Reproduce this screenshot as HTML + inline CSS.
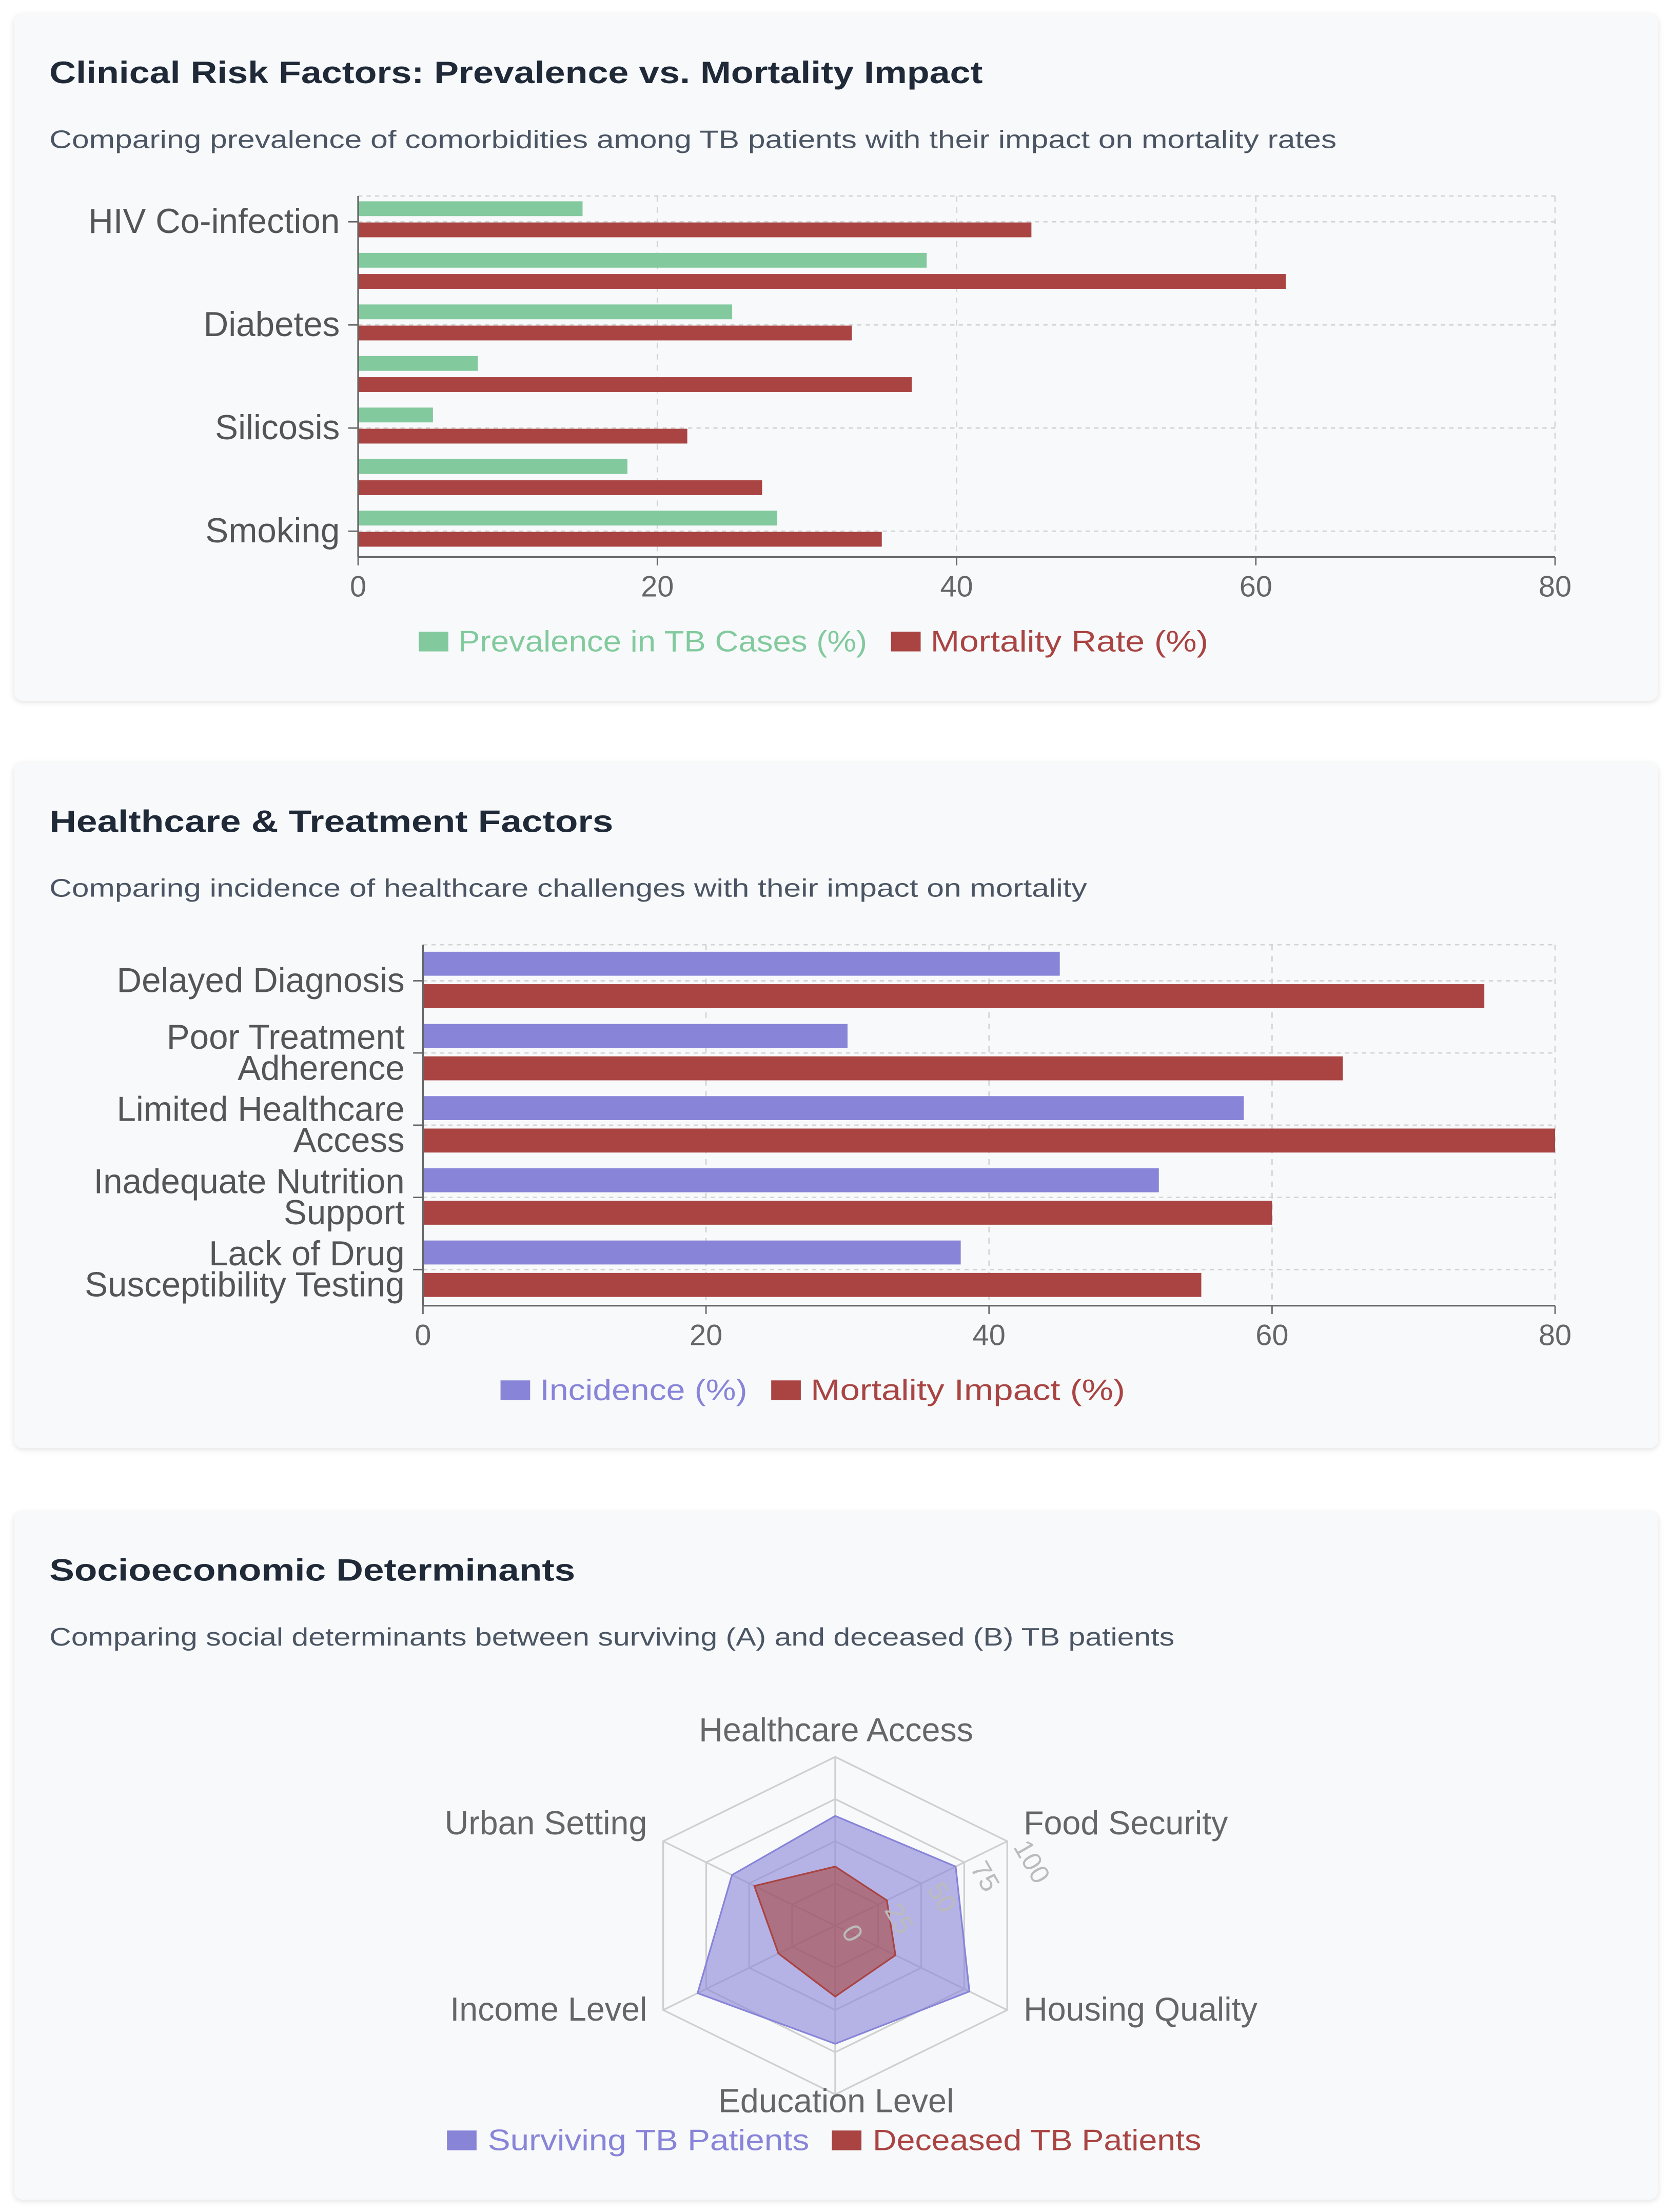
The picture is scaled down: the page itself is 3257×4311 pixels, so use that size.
<!DOCTYPE html>
<html><head><meta charset="utf-8">
<style>
html,body{margin:0;padding:0;background:#fff;}
svg{display:block;}
text{font-family:"Liberation Sans",sans-serif;}
</style></head>
<body>
<svg id="root" width="3257" height="4311" viewBox="0 0 1185.2 1568.8" xmlns="http://www.w3.org/2000/svg">
<defs>
<filter id="sh" x="-5%" y="-5%" width="110%" height="110%"><feDropShadow dx="0" dy="1" stdDeviation="2" flood-color="#000" flood-opacity="0.12"/></filter>
</defs>
<rect x="10" y="10" width="1166" height="487" rx="6" fill="#f7f9fb" filter="url(#sh)"/>
<rect x="10" y="541" width="1166" height="486" rx="6" fill="#f7f9fb" filter="url(#sh)"/>
<rect x="10" y="1072" width="1166" height="488" rx="6" fill="#f7f9fb" filter="url(#sh)"/>

<text x="35" y="59" font-size="22" font-weight="bold" fill="#1f2937" textLength="662" lengthAdjust="spacingAndGlyphs">Clinical Risk Factors: Prevalence vs. Mortality Impact</text>
<text x="35" y="105" font-size="18" fill="#4b5563" textLength="913" lengthAdjust="spacingAndGlyphs">Comparing prevalence of comorbidities among TB patients with their impact on mortality rates</text>
<text x="35" y="590" font-size="22" font-weight="bold" fill="#1f2937" textLength="400" lengthAdjust="spacingAndGlyphs">Healthcare &amp; Treatment Factors</text>
<text x="35" y="636" font-size="18" fill="#4b5563" textLength="736" lengthAdjust="spacingAndGlyphs">Comparing incidence of healthcare challenges with their impact on mortality</text>
<text x="35" y="1121" font-size="22" font-weight="bold" fill="#1f2937" textLength="373" lengthAdjust="spacingAndGlyphs">Socioeconomic Determinants</text>
<text x="35" y="1167" font-size="18" fill="#4b5563" textLength="798" lengthAdjust="spacingAndGlyphs">Comparing social determinants between surviving (A) and deceased (B) TB patients</text>

<g id="chart1"></g>
<g id="chart2"></g>
<g id="chart3"></g>

<g>
<rect x="297" y="448" width="21" height="14" fill="#82ca9d"/>
<text x="325" y="462" font-size="21" fill="#82ca9d" textLength="290" lengthAdjust="spacingAndGlyphs">Prevalence in TB Cases (%)</text>
<rect x="632" y="448" width="21" height="14" fill="#a94442"/>
<text x="660" y="462" font-size="21" fill="#a94442" textLength="197" lengthAdjust="spacingAndGlyphs">Mortality Rate (%)</text>
</g>
<g>
<rect x="355" y="979" width="21" height="14" fill="#8884d8"/>
<text x="383" y="993" font-size="21" fill="#8884d8" textLength="147" lengthAdjust="spacingAndGlyphs">Incidence (%)</text>
<rect x="547" y="979" width="21" height="14" fill="#a94442"/>
<text x="575" y="993" font-size="21" fill="#a94442" textLength="223" lengthAdjust="spacingAndGlyphs">Mortality Impact (%)</text>
</g>
<g>
<rect x="317" y="1511" width="21" height="14" fill="#8884d8"/>
<text x="346" y="1525" font-size="21" fill="#8884d8" textLength="228" lengthAdjust="spacingAndGlyphs">Surviving TB Patients</text>
<rect x="590" y="1511" width="21" height="14" fill="#a94442"/>
<text x="619" y="1525" font-size="21" fill="#a94442" textLength="233" lengthAdjust="spacingAndGlyphs">Deceased TB Patients</text>
</g>
</svg>
<script>
// ---- Chart 1 data ----
const c1Categories = ["HIV Co-infection","Malnutrition","Diabetes","Alcohol Use","Silicosis","Chronic Lung Disease","Smoking"];
const c1Prevalence = [15,38,25,8,5,18,28];
const c1Mortality = [45,62,33,37,22,27,35];
const c1Ticks = [0,20,40,60,80];
// ---- Chart 2 data ----
const c2Categories = [["Delayed Diagnosis"],["Poor Treatment","Adherence"],["Limited Healthcare","Access"],["Inadequate Nutrition","Support"],["Lack of Drug","Susceptibility Testing"]];
const c2Incidence = [45,30,58,52,38];
const c2Mortality = [75,65,80,60,55];
const c2Ticks = [0,20,40,60,80];
// ---- Chart 3 data ----
const c3Axes = ["Healthcare Access","Food Security","Housing Quality","Education Level","Income Level","Urban Setting"];
const c3Surviving = [65,70,78,70,80,60];
const c3Deceased = [35,30,35,42,33,47];
const c3Ticks = [0,25,50,75,100];

const NS = "http://www.w3.org/2000/svg";
function mk(parent, tag, attrs){
  const e = document.createElementNS(NS, tag);
  for (const k in attrs) e.setAttribute(k, attrs[k]);
  parent.appendChild(e);
  return e;
}

function hbar(g, o){
  const xs = v => o.x0 + (o.x1 - o.x0) * v / o.max;
  const band = (o.bottom - o.top) / o.cats.length;
  const yc = i => o.top + band * (i + 0.5);
  o.ticks.forEach(t => {
    if (t === 0) return;
    const l = mk(g, "line", {x1: xs(t), x2: xs(t), y1: o.top, y2: o.bottom, stroke: "#d4d4d4", "stroke-width": 1, "stroke-dasharray": "4 4"});
    
    
  });
  const topLine = mk(g, "line", {x1: o.x0, x2: o.x1, y1: o.top, y2: o.top, stroke: "#d4d4d4", "stroke-width": 1, "stroke-dasharray": "3 3"});
  
  
  o.cats.forEach((c, i) => {
    if (o.skip && i % 2 === 1) return;
    const y = yc(i);
    const gl = mk(g, "line", {x1: o.x0, x2: o.x1, y1: y, y2: y, stroke: "#d4d4d4", "stroke-width": 1, "stroke-dasharray": "3 3"});
    
    
    const tk = mk(g, "line", {x1: o.x0 - 7, x2: o.x0, y1: y, y2: y, stroke: "#666", "stroke-width": 1});
    
    
    const lines = Array.isArray(c) ? c : [c];
    lines.forEach((ln, j) => {
      const by = lines.length === 1 ? y + 8 : y - 3 + j * 22;
      const t = mk(g, "text", {x: o.x0 - 13, y: by, "font-size": o.fs, fill: "#555", "text-anchor": "end"});
      t.textContent = ln;
      
      
    });
  });
  o.cats.forEach((c, i) => {
    const y = yc(i);
    const b1 = mk(g, "rect", {x: o.x0, y: y + o.off1, width: xs(o.s1[i]) - o.x0, height: o.bh, fill: o.col1});
    
    
    const b2 = mk(g, "rect", {x: o.x0, y: y + o.off2, width: xs(o.s2[i]) - o.x0, height: o.bh, fill: o.col2});
    
    
  });
  const ya = mk(g, "line", {x1: o.x0, x2: o.x0, y1: o.top, y2: o.bottom, stroke: "#666", "stroke-width": 1.2});
  
  
  const xa = mk(g, "line", {x1: o.x0, x2: o.x1, y1: o.bottom, y2: o.bottom, stroke: "#666", "stroke-width": 1.2});
  
  
  o.ticks.forEach(t => {
    const tk = mk(g, "line", {x1: xs(t), x2: xs(t), y1: o.bottom, y2: o.bottom + 6, stroke: "#666", "stroke-width": 1});
    
    
    const tl = mk(g, "text", {x: xs(t), y: o.bottom + 28, "font-size": 21, fill: "#666", "text-anchor": "middle"});
    tl.textContent = t;
    
    
  });
}

hbar(document.getElementById("chart1"), {
  x0: 254, x1: 1103, top: 139, bottom: 395, max: 80, ticks: c1Ticks,
  cats: c1Categories, s1: c1Prevalence, s2: c1Mortality, skip: true, fs: 24.5,
  col1: "#82ca9d", col2: "#a94442", n1: "prevalence", n2: "mortality",
  off1: -14.5, off2: 0.5, bh: 10.5
});
hbar(document.getElementById("chart2"), {
  x0: 300, x1: 1103, top: 670, bottom: 926, max: 80, ticks: c2Ticks,
  cats: c2Categories, s1: c2Incidence, s2: c2Mortality, skip: false, fs: 24.5,
  col1: "#8884d8", col2: "#a94442", n1: "incidence", n2: "mortality-impact",
  off1: -20.6, off2: 2.4, bh: 17
});

(function(){
  const g = document.getElementById("chart3");
  const cx = 592.4, cy = 1365.7, rx = 140.9, ry = 119.7, max = 100;
  const n = c3Axes.length;
  const pt = (i, v) => {
    const a = -Math.PI / 2 + i * 2 * Math.PI / n;
    return [cx + Math.cos(a) * rx * v / max, cy + Math.sin(a) * ry * v / max];
  };
  c3Ticks.forEach(t => {
    if (t === 0) return;
    const pts = c3Axes.map((_, i) => pt(i, t).join(",")).join(" ");
    const p = mk(g, "polygon", {points: pts, fill: "none", stroke: "#cfcfcf", "stroke-width": 1.2});
    
    
  });
  c3Axes.forEach((a, i) => {
    const [x, y] = pt(i, max);
    const l = mk(g, "line", {x1: cx, y1: cy, x2: x, y2: y, stroke: "#cfcfcf", "stroke-width": 1.2});
    
    
  });
  const s1 = mk(g, "polygon", {points: c3Surviving.map((v, i) => pt(i, v).join(",")).join(" "), fill: "#8884d8", "fill-opacity": 0.6, stroke: "#8884d8", "stroke-width": 1.2});
  
  
  const s2 = mk(g, "polygon", {points: c3Deceased.map((v, i) => pt(i, v).join(",")).join(" "), fill: "#a94442", "fill-opacity": 0.6, stroke: "#a94442", "stroke-width": 1.2});
  
  
  c3Ticks.forEach(t => {
    const [x, y] = pt(1, t);
    const tl = mk(g, "text", {x: x + 4, y: y + 4, "font-size": 19, fill: "#bbb", transform: "rotate(60 " + (x + 4) + " " + (y + 4) + ")"});
    tl.textContent = t;
    
    
  });
  const lp = [
    [593, 1235, "middle"], [726, 1301, "start"], [726, 1433, "start"],
    [593, 1498, "middle"], [459, 1433, "end"], [459, 1301, "end"]
  ];
  c3Axes.forEach((a, i) => {
    const t = mk(g, "text", {x: lp[i][0], y: lp[i][1], "font-size": 23.5, fill: "#666", "text-anchor": lp[i][2]});
    t.textContent = a;
    
    
  });
})();
</script>
</body></html>
